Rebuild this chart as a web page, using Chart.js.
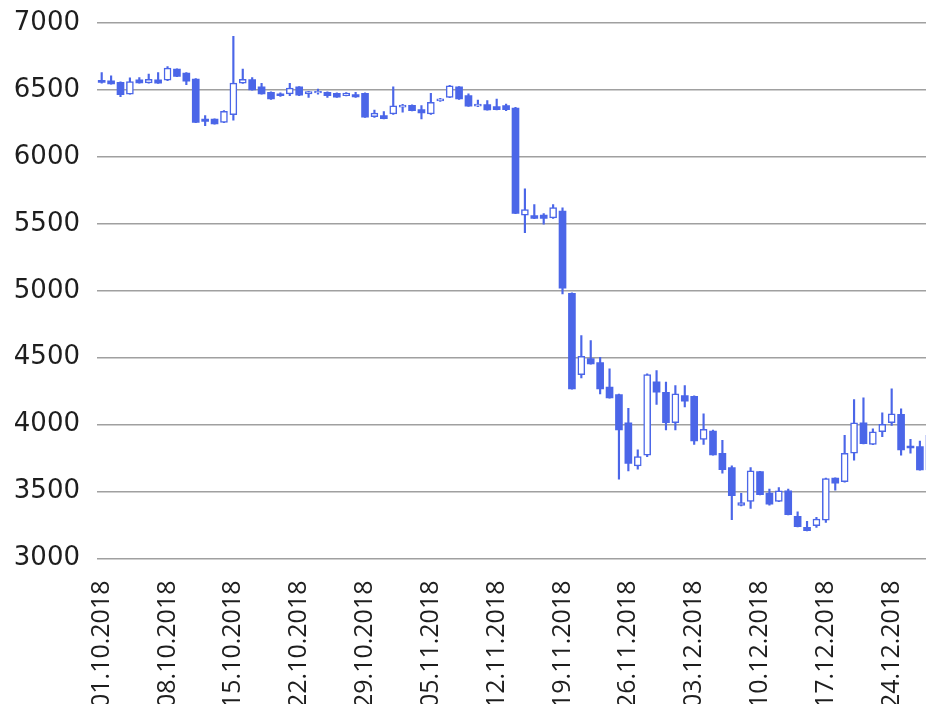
<!DOCTYPE html>
<html>
<head>
<meta charset="utf-8">
<script src="https://cdn.jsdelivr.net/npm/chart.js@4"></script>
<style>
html, body { margin: 0; padding: 0; background: #ffffff; overflow: hidden; width: 926px; height: 704px; }
#wrap { position: absolute; left: 0; top: 0; width: 934px; height: 720px; }
</style>
</head>
<body>
<div id="wrap"><canvas id="c" width="934" height="720"></canvas></div>
<script>
const dates = [
  '01.10.2018','02.10.2018','03.10.2018','04.10.2018','05.10.2018','06.10.2018','07.10.2018',
  '08.10.2018','09.10.2018','10.10.2018','11.10.2018','12.10.2018','13.10.2018','14.10.2018',
  '15.10.2018','16.10.2018','17.10.2018','18.10.2018','19.10.2018','20.10.2018','21.10.2018',
  '22.10.2018','23.10.2018','24.10.2018','25.10.2018','26.10.2018','27.10.2018','28.10.2018',
  '29.10.2018','30.10.2018','31.10.2018','01.11.2018','02.11.2018','03.11.2018','04.11.2018',
  '05.11.2018','06.11.2018','07.11.2018','08.11.2018','09.11.2018','10.11.2018','11.11.2018',
  '12.11.2018','13.11.2018','14.11.2018','15.11.2018','16.11.2018','17.11.2018','18.11.2018',
  '19.11.2018','20.11.2018','21.11.2018','22.11.2018','23.11.2018','24.11.2018','25.11.2018',
  '26.11.2018','27.11.2018','28.11.2018','29.11.2018','30.11.2018','01.12.2018','02.12.2018',
  '03.12.2018','04.12.2018','05.12.2018','06.12.2018','07.12.2018','08.12.2018','09.12.2018',
  '10.12.2018','11.12.2018','12.12.2018','13.12.2018','14.12.2018','15.12.2018','16.12.2018',
  '17.12.2018','18.12.2018','19.12.2018','20.12.2018','21.12.2018','22.12.2018','23.12.2018',
  '24.12.2018','25.12.2018','26.12.2018','27.12.2018','28.12.2018'
];
const tickLabels = ['01.10.2018','08.10.2018','15.10.2018','22.10.2018','29.10.2018','05.11.2018',
  '12.11.2018','19.11.2018','26.11.2018','03.12.2018','10.12.2018','17.12.2018','24.12.2018'];

const opens = [
  6572,6568,6556,6469,6576,6552,6576, 6573,6655,6625,6582,6283,6283,6258,
  6315,6550,6577,6524,6482,6470,6470, 6524,6470,6478,6482,6475,6458,6465,
  6475,6300,6308,6320,6372,6385,6353, 6320,6418,6445,6524,6458,6378,6390,
  6375,6383,6365,5565,5562,5565,5544, 5595,4981,4374,4493,4463,4280,4225,
  4014,3692,3771,4320,4242,4014,4217, 4212,3890,3952,3786,3680,3396,3426,
  3650,3488,3426,3506,3315,3233,3245, 3287,3600,3573,3786,4014,3853,3947,
  4014,4076,3840,3836,3662
];
const highs = [
  6630,6606,6560,6590,6593,6618,6630, 6675,6658,6630,6585,6308,6285,6345,
  6900,6655,6593,6550,6485,6478,6550, 6525,6490,6507,6485,6478,6480,6482,
  6478,6350,6338,6524,6392,6388,6383, 6474,6437,6535,6526,6470,6425,6420,
  6432,6395,6370,5762,5643,5577,5643, 5619,4985,4666,4627,4503,4416,4228,
  4121,3811,4380,4403,4317,4292,4292, 4215,4081,3960,3883,3692,3486,3679,
  3652,3518,3530,3518,3349,3277,3307, 3600,3602,3920,4188,4200,3969,4088,
  4267,4118,3890,3878,3935
];
const lows = [
  6550,6544,6450,6469,6550,6550,6548, 6570,6600,6540,6255,6234,6245,6255,
  6275,6548,6498,6468,6430,6452,6457, 6458,6445,6468,6445,6444,6455,6444,
  6295,6295,6283,6318,6333,6344,6283, 6318,6415,6443,6430,6376,6375,6348,
  6350,6345,5575,5433,5538,5497,5540, 4976,4265,4349,4452,4230,4198,3592,
  3654,3667,3761,4150,3960,3960,4133, 3853,3853,3772,3637,3290,3392,3374,
  3474,3399,3424,3325,3236,3206,3233, 3270,3511,3570,3734,3856,3850,3910,
  3994,3771,3786,3660,3655
];
const closes = [
  6556,6545,6465,6563,6552,6580,6550, 6663,6601,6565,6258,6265,6247,6340,
  6551,6580,6500,6470,6432,6458,6514, 6460,6488,6490,6458,6446,6476,6447,
  6296,6328,6285,6382,6387,6346,6328, 6407,6434,6530,6432,6378,6395,6350,
  6352,6352,5578,5606,5540,5540,5621, 5020,4267,4510,4454,4267,4200,3960,
  3710,3761,4374,4242,4014,4230,4175, 3878,3965,3774,3663,3470,3418,3655,
  3476,3406,3506,3327,3238,3208,3295, 3597,3563,3786,4014,3858,3947,4002,
  4081,3811,3826,3662,3920
];

const BLUE = '#4b66e8';
const up = closes.map((c, i) => c > opens[i]);

new Chart(document.getElementById('c'), {
  type: 'bar',
  data: {
    labels: dates,
    datasets: [
      {
        label: 'body',
        data: opens.map((o, i) => [o, closes[i]]),
        backgroundColor: up.map(u => u ? '#ffffff' : BLUE),
        borderColor: BLUE,
        borderWidth: up.map(u => u ? 1.5 : 0),
        borderSkipped: false,
        barThickness: 7,
        grouped: false,
        order: 0
      },
      {
        label: 'wick',
        data: lows.map((l, i) => [l, highs[i]]),
        backgroundColor: BLUE,
        borderWidth: 0,
        barThickness: 1.5,
        grouped: false,
        order: 1
      }
    ]
  },
  options: {
    responsive: false,
    animation: false,
    devicePixelRatio: 1,
    layout: { padding: { top: 23, left: 0, right: 0, bottom: 0 } },
    plugins: { legend: { display: false }, tooltip: { enabled: false } },
    scales: {
      x: {
        grid: { display: false, drawTicks: false },
        border: { display: false },
        ticks: {
          autoSkip: false,
          minRotation: 90,
          maxRotation: 90,
          padding: 22,
          color: '#1e1e1e',
          font: { family: 'Open Sans', size: 25 },
          callback: function (v, i) { return tickLabels.includes(dates[i]) ? dates[i] : ''; }
        },
        afterFit: function (s) { s.height = 720 - 558.5; s.paddingLeft = 0; s.paddingRight = 0; }
      },
      y: {
        min: 3000,
        max: 7000,
        grid: { color: '#a0a0a0', lineWidth: 1.5, drawTicks: false },
        border: { display: false },
        ticks: {
          stepSize: 500,
          padding: 17,
          color: '#1e1e1e',
          font: { family: 'DejaVu Sans', size: 26 },
          callback: function (v) { return String(v); }
        },
        afterFit: function (s) { s.width = 97; s.paddingTop = 0; s.paddingBottom = 0; }
      }
    }
  }
});
</script>
</body>
</html>
